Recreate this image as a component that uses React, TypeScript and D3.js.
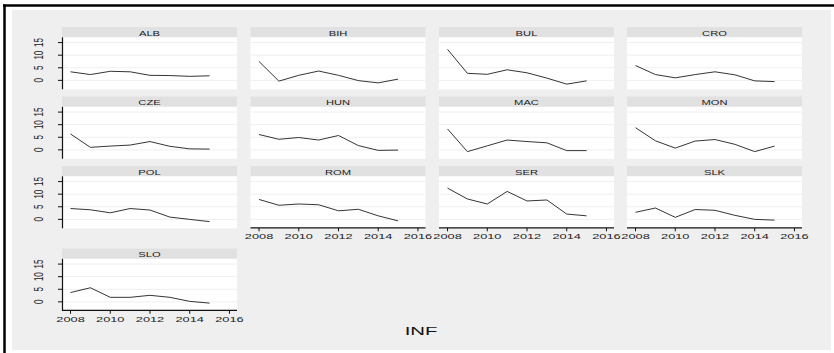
import React from "react";
import { scaleLinear, line } from "d3";

// CPI inflation by country, 2008-2015
const years = [2008, 2009, 2010, 2011, 2012, 2013, 2014, 2015];
const countries = ["ALB", "BIH", "BUL", "CRO", "CZE", "HUN", "MAC", "MON", "POL", "ROM", "SER", "SLK", "SLO"];
const ALB = [3.4, 2.3, 3.6, 3.4, 2.0, 1.9, 1.6, 1.8];
const BIH = [7.5, -0.3, 2.0, 3.7, 2.0, -0.1, -1.0, 0.5];
const BUL = [12.3, 2.8, 2.4, 4.2, 3.0, 0.9, -1.5, -0.2];
const CRO = [5.9, 2.3, 1.0, 2.3, 3.4, 2.2, -0.2, -0.5];
const CZE = [6.3, 1.0, 1.5, 1.9, 3.3, 1.4, 0.4, 0.3];
const HUN = [6.1, 4.2, 4.9, 3.9, 5.7, 1.7, -0.2, -0.1];
const MAC = [8.3, -0.7, 1.6, 3.9, 3.3, 2.8, -0.3, -0.3];
const MON = [8.8, 3.6, 0.7, 3.5, 4.1, 2.2, -0.7, 1.5];
const POL = [4.3, 3.8, 2.6, 4.3, 3.7, 0.9, 0.0, -0.9];
const ROM = [7.9, 5.6, 6.1, 5.8, 3.4, 4.0, 1.4, -0.6];
const SER = [12.4, 8.1, 6.1, 11.1, 7.3, 7.7, 2.1, 1.4];
const SLK = [2.8, 4.5, 0.8, 3.9, 3.6, 1.6, 0.0, -0.3];
const SLO = [3.7, 5.6, 1.8, 1.8, 2.6, 1.8, 0.2, -0.5];
const series = [ALB, BIH, BUL, CRO, CZE, HUN, MAC, MON, POL, ROM, SER, SLK, SLO];

const xTicks = [2008, 2010, 2012, 2014, 2016];
const yTicks = [0, 5, 10, 15];
const xTitle = "INF";

// panels that carry an x axis (bottom of their column)
const withXAxis = ["ROM", "SER", "SLK", "SLO"];

const W = 834;
const H = 353;
const panelW = 175;
const stripH = 10.3;
const plotH = 52;
const colLeft = [62, 250.5, 439, 627];
const rowTop = [27, 96.5, 166, 248.5];
const stretch = 1.6; // the picture's text is wide

const font = "'Liberation Sans', Arial, sans-serif";

const xScale = scaleLinear().domain([2007.57, 2016.38]).range([0, panelW]);
const yScale = scaleLinear().domain([-3.55, 17.1]).range([plotH, 0]);

const path = line<number>()
  .x((d, i) => xScale(years[i]))
  .y((d) => yScale(d));

function Panel({ name, values, col, row }: { name: string; values: number[]; col: number; row: number }) {
  const x0 = colLeft[col];
  const y0 = rowTop[row];
  const hasY = col === 0;
  const hasX = withXAxis.includes(name);
  return (
    <g transform={`translate(${x0},${y0})`}>
      <rect x={0} y={0} width={panelW} height={stripH} fill="#e1e1e1" />
      <text
        transform={`translate(${panelW / 2},${stripH - 1.8}) scale(${stretch},1)`}
        textAnchor="middle"
        fontSize={7}
        fontFamily={font}
        fill="#222"
      >
        {name}
      </text>
      <g transform={`translate(0,${stripH})`}>
        <rect x={0} y={0} width={panelW} height={plotH} fill="#ffffff" />
        {yTicks.map((t) => (
          <line key={t} x1={0} x2={panelW} y1={yScale(t)} y2={yScale(t)} stroke="#efefef" strokeWidth={1} />
        ))}
        <path d={path(values) || ""} fill="none" stroke="#1e1e1e" strokeWidth={0.9} />
        {hasY && (
          <g>
            <line x1={0.5} x2={0.5} y1={0} y2={plotH} stroke="#111" strokeWidth={1.2} />
            {yTicks.map((t) => (
              <g key={t}>
                <line x1={-4} x2={0.5} y1={yScale(t)} y2={yScale(t)} stroke="#111" strokeWidth={1} />
                <text
                  transform={`translate(-19.5,${yScale(t)}) scale(${stretch},1) rotate(-90)`}
                  textAnchor="middle"
                  fontSize={8}
                  fontFamily={font}
                  fill="#222"
                >
                  {t}
                </text>
              </g>
            ))}
          </g>
        )}
        {hasX && (
          <g transform={`translate(0,${plotH})`}>
            <line x1={0} x2={panelW} y1={-0.5} y2={-0.5} stroke="#111" strokeWidth={1.2} />
            {xTicks.map((t) => (
              <g key={t}>
                <line x1={xScale(t)} x2={xScale(t)} y1={-0.5} y2={3} stroke="#111" strokeWidth={1} />
                <text
                  transform={`translate(${xScale(t)},10.8) scale(${stretch},1)`}
                  textAnchor="middle"
                  fontSize={8}
                  fontFamily={font}
                  fill="#222"
                >
                  {t}
                </text>
              </g>
            ))}
          </g>
        )}
      </g>
    </g>
  );
}

export default function App() {
  return (
    <div style={{ position: "absolute", left: 0, top: 0 }}>
      <svg width={W} height={H} style={{ display: "block", background: "#fff" }}>
        <rect x={12} y={10} width={819} height={340} fill="#efefef" />
        <line x1={3} x2={W} y1={5.5} y2={5.5} stroke="#000" strokeWidth={2.5} />
        <line x1={4.5} x2={4.5} y1={4.5} y2={H} stroke="#000" strokeWidth={2.5} />
        {countries.map((c, i) => (
          <Panel key={c} name={c} values={series[i]} col={i % 4} row={Math.floor(i / 4)} />
        ))}
        <text
          transform={`translate(421,335) scale(1.85,1)`}
          textAnchor="middle"
          fontSize={11}
          fontFamily={font}
          fill="#111"
        >
          {xTitle}
        </text>
      </svg>
    </div>
  );
}
